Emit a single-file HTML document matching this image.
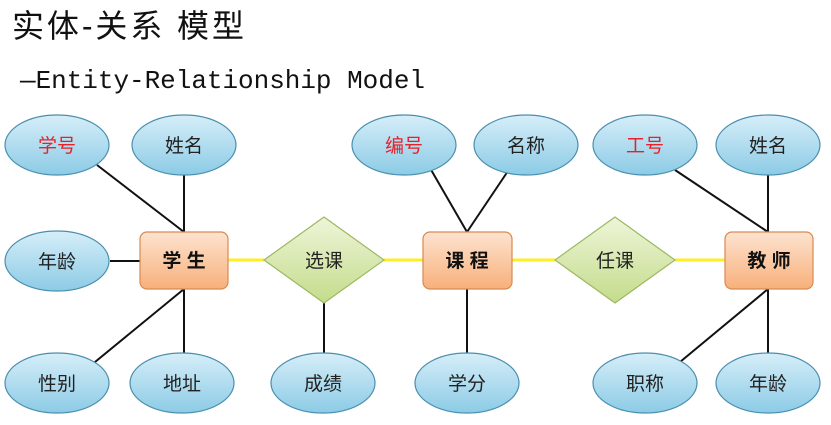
<!DOCTYPE html><html><head><meta charset="utf-8"><style>body{margin:0;background:#fff}svg{display:block}</style></head><body>
<svg width="831" height="425" viewBox="0 0 831 425" xmlns="http://www.w3.org/2000/svg">
<defs>
<linearGradient id="eg" x1="0" y1="0" x2="0" y2="1"><stop offset="0" stop-color="#d6eef8"/><stop offset="1" stop-color="#8ccbe6"/></linearGradient>
<linearGradient id="bg" x1="0" y1="0" x2="0" y2="1"><stop offset="0" stop-color="#fde3d0"/><stop offset="1" stop-color="#f8b07a"/></linearGradient>
<linearGradient id="dg" x1="0" y1="0" x2="0" y2="1"><stop offset="0" stop-color="#eef5d8"/><stop offset="1" stop-color="#c4dc8c"/></linearGradient>
</defs>
<text x="12" y="37" font-family="'Liberation Sans','Noto Sans CJK SC',sans-serif" font-size="32" fill="#111" textLength="232">实体-关系 模型</text>
<text x="20" y="88" font-family="'Liberation Mono','Noto Sans CJK SC',monospace" font-size="26" fill="#111" textLength="405">—Entity-Relationship Model</text>
<g stroke="#ffee22" stroke-width="3"><line x1="228" y1="260" x2="264" y2="260"/><line x1="384" y1="260" x2="423" y2="260"/><line x1="512" y1="260" x2="555" y2="260"/><line x1="675" y1="260" x2="725" y2="260"/></g>
<g stroke="#111" stroke-width="2">
<line x1="97" y1="165" x2="184" y2="232"/><line x1="184" y1="175" x2="184" y2="232"/><line x1="110" y1="261" x2="140" y2="261"/>
<line x1="184" y1="289" x2="95" y2="362"/><line x1="184" y1="289" x2="184" y2="355"/>
<line x1="430" y1="168" x2="467" y2="232"/><line x1="510" y1="168" x2="467" y2="232"/><line x1="467" y1="289" x2="467" y2="355"/><line x1="324" y1="303" x2="324" y2="355"/>
<line x1="675" y1="170" x2="768" y2="232"/><line x1="768" y1="175" x2="768" y2="232"/><line x1="680" y1="362" x2="768" y2="289"/><line x1="768" y1="289" x2="768" y2="355"/>
</g>
<g stroke="#4a8fae" stroke-width="1.2" fill="url(#eg)">
<ellipse cx="57" cy="145" rx="52" ry="30"/><ellipse cx="184" cy="145" rx="52" ry="30"/><ellipse cx="57" cy="261" rx="52" ry="30"/>
<ellipse cx="57" cy="383" rx="52" ry="30"/><ellipse cx="182" cy="383" rx="52" ry="30"/><ellipse cx="323" cy="383" rx="52" ry="30"/><ellipse cx="467" cy="383" rx="52" ry="30"/>
<ellipse cx="404" cy="145" rx="52" ry="30"/><ellipse cx="526" cy="145" rx="52" ry="30"/><ellipse cx="645" cy="145" rx="52" ry="30"/><ellipse cx="768" cy="145" rx="52" ry="30"/>
<ellipse cx="645" cy="383" rx="52" ry="30"/><ellipse cx="768" cy="383" rx="52" ry="30"/>
</g>
<g stroke="#d98a50" stroke-width="1.2" fill="url(#bg)">
<rect x="140" y="232" width="88" height="57" rx="7"/><rect x="423" y="232" width="89" height="57" rx="7"/><rect x="725" y="232" width="88" height="57" rx="7"/>
</g>
<g stroke="#9cb860" stroke-width="1.2" fill="url(#dg)">
<polygon points="264,260 324,217 384,260 324,303"/><polygon points="555,260 615,217 675,260 615,303"/>
</g>
<g font-family="'Liberation Sans','Noto Sans CJK SC',sans-serif" font-size="19" text-anchor="middle" fill="#222">
<text x="57" y="152" fill="#e8202a">学号</text><text x="184" y="152">姓名</text><text x="57" y="268">年龄</text>
<text x="57" y="390">性别</text><text x="182" y="390">地址</text><text x="323" y="390">成绩</text><text x="467" y="390">学分</text>
<text x="404" y="152" fill="#e8202a">编号</text><text x="526" y="152">名称</text><text x="645" y="152" fill="#e8202a">工号</text><text x="768" y="152">姓名</text>
<text x="645" y="390">职称</text><text x="768" y="390">年龄</text>
<text x="324" y="267">选课</text><text x="615" y="267">任课</text>
<g font-weight="bold" fill="#111"><text x="184" y="267">学 生</text><text x="467" y="267">课 程</text><text x="769" y="267">教 师</text></g>
</g>
</svg></body></html>
